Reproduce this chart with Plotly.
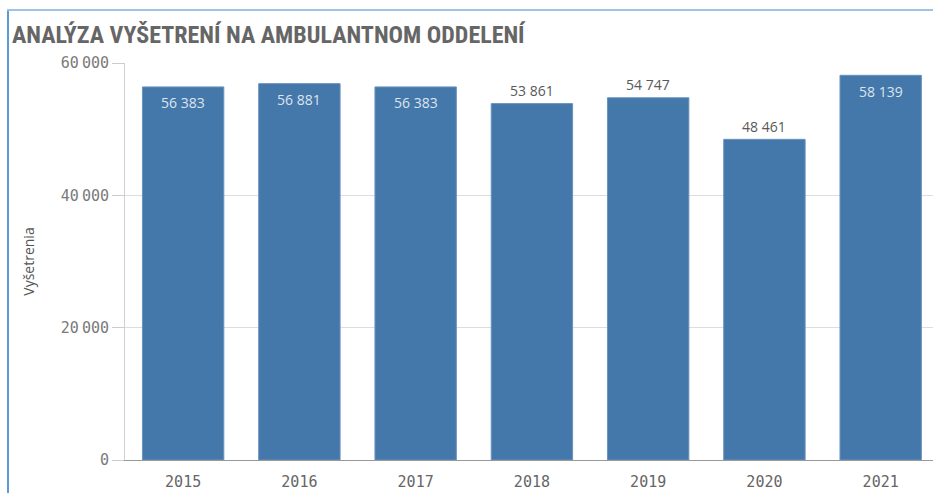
import plotly.graph_objects as go

years = ["2015", "2016", "2017", "2018", "2019", "2020", "2021"]
values = [56383, 56881, 56383, 53861, 54747, 48461, 58139]
label_inside = [True, True, True, False, False, False, True]
y_ticks = [0, 20000, 40000, 60000]
y_tick_labels = ["0", "20 000", "40 000", "60 000"]

W, H = 933, 493
L, R, T, B = 125, 0, 63, 33

def fmt(v):
    return f"{v:,}".replace(",", " ")

def narrow(s):
    return s.replace(" ", "<span style='font-size:5px'> </span>")

fig = go.Figure(go.Bar(
    x=years, y=values,
    marker=dict(color="#4477aa", line=dict(color="#6a92bd", width=1)),
    width=0.7, hoverinfo="skip",
))

annotations = []
for i, (v, inside) in enumerate(zip(values, label_inside)):
    annotations.append(dict(
        x=i, y=v, xref="x", yref="y", text=fmt(v), showarrow=False,
        yanchor="middle", yshift=-16 if inside else 13,
        font=dict(family="Open Sans, sans-serif", size=14,
                  color="#dde4ee" if inside else "#595959"),
    ))

pw = W - L - R
ph = H - T - B
def px_x(p):
    return (p - L) / pw
def px_y(p):
    return 1 - (p - T) / ph

fig.update_layout(
    width=W, height=H,
    margin=dict(l=L, r=R, t=T, b=B),
    paper_bgcolor="white", plot_bgcolor="white",
    showlegend=False,
    title=dict(text="<b>ANALÝZA VYŠETRENÍ NA AMBULANTNOM ODDELENÍ</b>",
               x=12 / W, xanchor="left", y=1 - 35 / H, yanchor="middle",
               font=dict(family="Roboto Condensed, Roboto, sans-serif", size=24, color="#666666")),
    xaxis=dict(type="category", range=[-0.5, 6.45], showgrid=False, showline=True, linecolor="#999999",
               ticks="", ticklabelstandoff=8,
               tickfont=dict(family="DejaVu Sans Mono, monospace", size=15, color="#666666")),
    yaxis=dict(range=[0, 60000], tickvals=y_ticks, ticktext=[narrow(t) for t in y_tick_labels],
               showgrid=True, gridcolor="#dddddd", showline=True, linecolor="#d0d0d0",
               ticks="outside", ticklen=12, tickcolor="#cccccc",
               tickfont=dict(family="DejaVu Sans Mono, monospace", size=15, color="#7a7a7a"),
               title=dict(text="Vyšetrenia", standoff=22,
                          font=dict(family="Open Sans, sans-serif", size=14, color="#555555")),
               zeroline=False),
    annotations=annotations,
    shapes=[
        dict(type="line", xref="paper", yref="paper", x0=px_x(8), x1=px_x(8), y0=px_y(9), y1=px_y(H + 5),
             line=dict(color="#5b9bd5", width=2)),
        dict(type="line", xref="paper", yref="paper", x0=px_x(7), x1=px_x(W + 5), y0=px_y(10), y1=px_y(10),
             line=dict(color="#9dc3e6", width=2)),
    ],
)

fig.write_html("out.html", config={"displayModeBar": False},
               post_script="document.body.style.margin='0';document.body.style.overflow='hidden';")
